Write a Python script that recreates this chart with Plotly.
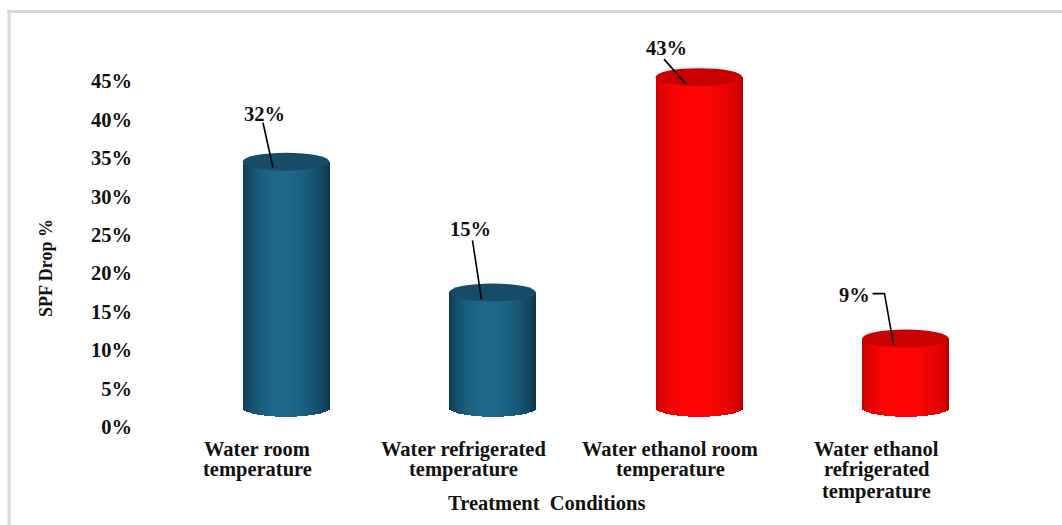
import math
import plotly.graph_objects as go

# ---- data ----
categories = [
    "Water room<br>temperature",
    "Water refrigerated<br>temperature",
    "Water ethanol room<br>temperature",
    "Water ethanol<br>refrigerated<br>temperature",
]
spf_drop = [32, 15, 43, 9]          # percent
series_group = ["water", "water", "ethanol", "ethanol"]
y_ticks = [0, 5, 10, 15, 20, 25, 30, 35, 40, 45]
y_title = "SPF Drop %"
x_title = "Treatment  Conditions"

# ---- geometry / style ----
FIG_W, FIG_H = 1062, 525
M_L, M_R, M_T, M_B = 133, 22, 43, 90
PLOT_W = FIG_W - M_L - M_R
PLOT_H = FIG_H - M_T - M_B
PX_PER_X = 206.5            # pixels per category step
PX_PER_Y = 7.689            # pixels per percent
FIRST_CENTER_PX = 286       # pixel x of the first cylinder
ZERO_PX = 427               # pixel y of the 0% tick
X_MIN = -(FIRST_CENTER_PX - M_L) / PX_PER_X
X_MAX = X_MIN + PLOT_W / PX_PER_X
Y_MIN = -((FIG_H - M_B) - ZERO_PX) / PX_PER_Y
Y_MAX = (ZERO_PX - M_T) / PX_PER_Y

FLOOR = 2.5                 # cylinders stand on a floor set back in depth
BAR_W = 0.42
RY = 9.0 / PX_PER_Y         # vertical radius of the elliptical caps
N_STRIPS = 48
LABEL_SHIFT = -0.14         # category labels sit slightly left of the cylinders

FONT = "Liberation Serif"
TXT = "#111111"
FS = 20.5

PALETTE = {
    "water": {"dark": (12, 50, 72), "light": (29, 104, 138), "top": "#164c67", "exp": 0.65},
    "ethanol": {"dark": (160, 0, 0), "light": (255, 4, 4), "top": "#c80000", "exp": 0.35},
}


def px_x(p):
    return p / PX_PER_X


def px_y(p):
    return p / PX_PER_Y


def paper_x(px):
    return (px - M_L) / PLOT_W


def paper_y(py):
    return ((FIG_H - M_B) - py) / PLOT_H


def shade(group, t):
    pal = PALETTE[group]
    tt = t ** 0.868
    b = max(0.0, math.sin(math.pi * tt)) ** pal["exp"]
    c = [round(d + (l - d) * b) for d, l in zip(pal["dark"], pal["light"])]
    return "rgb({},{},{})".format(*c)


fig = go.Figure()

xs = list(range(len(categories)))

# cylinder bodies: vertical strips with horizontal shading, rounded bottom
strip_w = BAR_W / N_STRIPS
for j in range(N_STRIPS):
    t = (j + 0.5) / N_STRIPS
    u = 2 * t - 1
    sag = RY * math.sqrt(max(0.0, 1 - u * u))
    fig.add_trace(go.Bar(
        x=xs,
        y=[v + sag for v in spf_drop],
        base=[FLOOR - sag] * len(xs),
        offset=-BAR_W / 2 + j * strip_w,
        width=strip_w * 1.25,
        marker=dict(color=[shade(g, t) for g in series_group], line=dict(width=0)),
        hoverinfo="skip",
        showlegend=False,
    ))

shapes = []
# elliptical tops
for i, v in enumerate(spf_drop):
    top = FLOOR + v
    shapes.append(dict(
        type="circle", xref="x", yref="y",
        x0=i - BAR_W / 2, x1=i + BAR_W / 2, y0=top - RY, y1=top + RY,
        fillcolor=PALETTE[series_group[i]]["top"], line=dict(width=0), layer="above",
    ))

# value labels and their leader lines (pixel offsets from the top of each cylinder)
LABEL_OFFSETS = [(-22, -48), (-22, -63), (-33, -29), (-51, -44)]
LEADERS = [
    [(-23, -39), (-13, 6)],
    [(-20, -52), (-11, 7)],
    [(-35, -18), (-13, 7)],
    [(-33, -45), (-21, -45), (-12, 6)],
]
annotations = []
for i, v in enumerate(spf_drop):
    top = FLOOR + v
    ox, oy = LABEL_OFFSETS[i]
    annotations.append(dict(
        x=i + px_x(ox), y=top - px_y(oy), xref="x", yref="y",
        text=f"{v}%", showarrow=False,
        font=dict(family=FONT, size=FS, color=TXT, weight="bold"),
        xanchor="center", yanchor="middle",
    ))
    pts = [(i + px_x(a), top - px_y(b)) for a, b in LEADERS[i]]
    path = "M " + " L ".join(f"{x:.4f},{y:.4f}" for x, y in pts)
    shapes.append(dict(type="path", xref="x", yref="y", path=path,
                       line=dict(color="#000000", width=1.6), layer="above"))

# category labels, one line at a time
LINE_PX = [449, 470, 491]
for i, cat in enumerate(categories):
    for k, line in enumerate(cat.split("<br>")):
        annotations.append(dict(
            x=i + LABEL_SHIFT, y=paper_y(LINE_PX[k]), xref="x", yref="paper",
            text=line, showarrow=False,
            font=dict(family=FONT, size=FS, color=TXT, weight="bold"),
            xanchor="center", yanchor="middle",
        ))

# axis titles
annotations.append(dict(
    x=paper_x(546), y=paper_y(503), xref="paper", yref="paper",
    text=x_title, showarrow=False,
    font=dict(family=FONT, size=FS, color=TXT, weight="bold"),
    xanchor="center", yanchor="middle",
))
annotations.append(dict(
    x=paper_x(46), y=paper_y(268), xref="paper", yref="paper",
    text=y_title, showarrow=False, textangle=-90,
    font=dict(family=FONT, size=18, color=TXT, weight="bold"),
    xanchor="center", yanchor="middle",
))

# chart frame (left and top edges)
FRAME = "#d9d9d9"
shapes.append(dict(type="line", xref="paper", yref="paper",
                   x0=paper_x(9), x1=paper_x(9), y0=paper_y(10), y1=paper_y(530),
                   line=dict(color=FRAME, width=3), layer="above"))
shapes.append(dict(type="line", xref="paper", yref="paper",
                   x0=paper_x(7.5), x1=paper_x(1070), y0=paper_y(11.5), y1=paper_y(11.5),
                   line=dict(color=FRAME, width=3), layer="above"))

fig.update_layout(
    width=FIG_W, height=FIG_H,
    margin=dict(l=M_L, r=M_R, t=M_T, b=M_B, autoexpand=False),
    paper_bgcolor="white", plot_bgcolor="white",
    barmode="overlay", bargap=0,
    showlegend=False,
    shapes=shapes,
    annotations=annotations,
    xaxis=dict(range=[X_MIN, X_MAX], showgrid=False, zeroline=False, showline=False,
               showticklabels=False, ticks="", fixedrange=True),
    yaxis=dict(range=[Y_MIN, Y_MAX], tickvals=y_ticks,
               ticktext=[f"{v}%" for v in y_ticks],
               showgrid=False, zeroline=False, showline=False, ticks="",
               tickfont=dict(family=FONT, size=FS, color=TXT, weight="bold"),
               fixedrange=True),
)

fig.write_html("out.html", config={"displayModeBar": False})
